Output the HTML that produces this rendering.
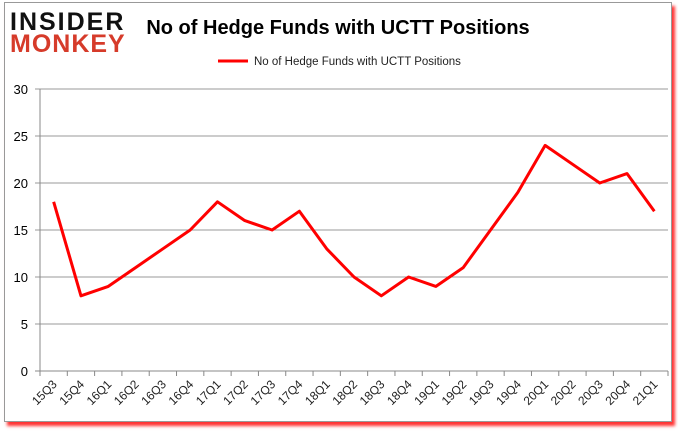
<!DOCTYPE html>
<html><head><meta charset="utf-8"><style>
body{margin:0;width:678px;height:431px;background:#fff;overflow:hidden;font-family:"Liberation Sans",sans-serif}
#frame{position:absolute;left:4px;top:2px;width:666px;height:418px;border:1px solid #999;box-shadow:3px 4px 3px #f33;background:#fff}
</style></head><body>
<div id="frame"></div>
<svg width="678" height="431" style="position:absolute;left:0;top:0" id="chart">
<text x="10" y="30" font-size="25" font-weight="bold" fill="#111" font-family="Liberation Sans,sans-serif" letter-spacing="2">INSIDER</text>
<text x="10" y="52" font-size="25" font-weight="bold" fill="#d63b2a" font-family="Liberation Sans,sans-serif" letter-spacing="1">MONKEY</text>
<text x="338" y="34" font-size="20" font-weight="bold" text-anchor="middle" fill="#000">No of Hedge Funds with UCTT Positions</text>
<line x1="218" y1="61" x2="248" y2="61" stroke="red" stroke-width="3"/>
<text x="254" y="65" font-size="11.5" fill="#222">No of Hedge Funds with UCTT Positions</text>
<g id="g"></g>
</svg>
<script>
const categories=["15Q3","15Q4","16Q1","16Q2","16Q3","16Q4","17Q1","17Q2","17Q3","17Q4","18Q1","18Q2","18Q3","18Q4","19Q1","19Q2","19Q3","19Q4","20Q1","20Q2","20Q3","20Q4","21Q1"];
const values=[18,8,9,11,13,15,18,16,15,17,13,10,8,10,9,11,15,19,24,22,20,21,17];
const yTicks=[0,5,10,15,20,25,30];
const L=40,R=668,T=89,B=371,ymax=30;
const bw=(R-L)/categories.length;
const xs=i=>L+bw*(i+0.5);
const ys=v=>B-(v/ymax)*(B-T);
const g=document.getElementById('g');
const NS='http://www.w3.org/2000/svg';
function mk(t,a){const e=document.createElementNS(NS,t);for(const k in a)e.setAttribute(k,a[k]);g.appendChild(e);return e;}
yTicks.forEach(v=>{
 const y=ys(v);
 const l=mk('line',{x1:L-5,x2:R,y1:y,y2:y,stroke:v===0?'#888':'#999','stroke-width':1});
 
 
 const t=mk('text',{x:L-12,y:y+5,'font-size':13,'text-anchor':'end',fill:'#000'});t.textContent=v;
 
 
});
const ax=mk('line',{x1:L,x2:L,y1:T,y2:B+5,stroke:'#888'});


categories.forEach((c,i)=>{
 const tx=L+bw*(i+1);
 const tk=mk('line',{x1:tx,x2:tx,y1:B,y2:B+5,stroke:'#888'});
 
 
 const x=xs(i)+4,y=B+14;
 const t=mk('text',{x:x,y:y,'font-size':12,'text-anchor':'end',fill:'#222',transform:`rotate(-45 ${x} ${y})`});t.textContent=c;
 
 
});
const p=mk('polyline',{points:values.map((v,i)=>xs(i)+','+ys(v)).join(' '),fill:'none',stroke:'red','stroke-width':3,'stroke-linejoin':'round'});


</script>
</body></html>
